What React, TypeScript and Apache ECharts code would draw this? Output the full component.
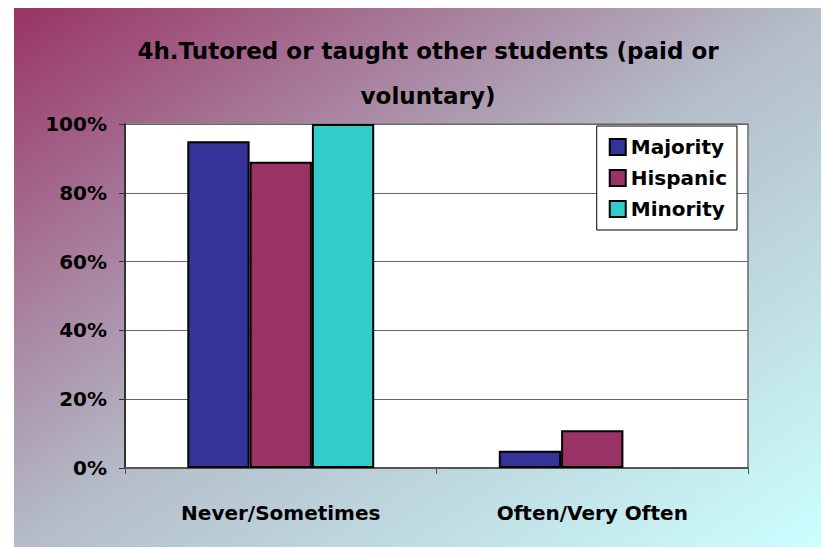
import React, { useEffect, useRef } from "react";
import * as echarts from "echarts";

const categories = ["Never/Sometimes", "Often/Very Often"];
const seriesNames = ["Majority", "Hispanic", "Minority"];
const majority = [95, 5];
const hispanic = [89, 11];
const minority = [100, 0];
const colors = ["#333399", "#993366", "#33CCCC"];
const yTicks = [0, 20, 40, 60, 80, 100];
const titleText = "4h.Tutored or taught other students (paid or\nvoluntary)";

const FONT = "'DejaVu Sans', 'Noto Sans', sans-serif";

export default function App() {
  const ref = useRef<HTMLDivElement>(null);
  useEffect(() => {
    if (!ref.current) return;
    const chart = echarts.init(ref.current, null, { renderer: "svg" });
    const values = [majority, hispanic, minority];
    chart.setOption({
      animation: false,
      backgroundColor: "#ffffff",
      graphic: [
        {
          type: "rect",
          z: -10,
          silent: true,
          shape: { x: 14, y: 8, width: 807, height: 539 },
          style: {
            fill: new echarts.graphic.LinearGradient(0, 0, 1, 1, [
              { offset: 0, color: "#993366" },
              { offset: 0.5, color: "#b4bcc8" },
              { offset: 1, color: "#ccffff" },
            ]),
          },
        },
      ],
      title: {
        text: titleText,
        left: 423,
        top: 23,
        textAlign: "center",
        textStyle: {
          fontFamily: FONT,
          fontWeight: "bold",
          fontSize: 23,
          lineHeight: 45,
          color: "#000",
        },
      },
      legend: {
        data: seriesNames,
        orient: "vertical",
        right: 84,
        top: 126,
        backgroundColor: "#ffffff",
        borderColor: "#000",
        borderWidth: 1,
        borderRadius: 0,
        padding: [10, 10, 10, 12],
        itemGap: 9,
        itemWidth: 16,
        itemHeight: 16,
        icon: "rect",
        textStyle: {
          fontFamily: FONT,
          fontWeight: "bold",
          fontSize: 20,
          lineHeight: 22,
          color: "#000",
          padding: [0, 0, 0, 0],
        },
      },
      grid: {
        left: 125,
        right: 73,
        top: 124,
        bottom: 81,
        show: true,
        backgroundColor: "#ffffff",
        borderColor: "#888888",
        borderWidth: 2,
      },
      xAxis: {
        type: "category",
        data: categories,
        axisLine: { lineStyle: { color: "#555", width: 2 } },
        axisTick: { show: true, length: 6, lineStyle: { color: "#555", width: 1 } },
        axisLabel: {
          margin: 35,
          fontFamily: FONT,
          fontWeight: "bold",
          fontSize: 20,
          color: "#000",
        },
      },
      yAxis: {
        type: "value",
        min: yTicks[0],
        max: yTicks[yTicks.length - 1],
        interval: 20,
        axisLine: { show: true, lineStyle: { color: "#333", width: 2 } },
        axisTick: { show: true, length: 6, lineStyle: { color: "#333", width: 1 } },
        splitLine: { lineStyle: { color: "#666", width: 1 } },
        axisLabel: {
          margin: 18,
          formatter: "{value}%",
          fontFamily: FONT,
          fontWeight: "bold",
          fontSize: 20,
          color: "#000",
        },
      },
      series: seriesNames.map((name, i) => ({
        name,
        type: "bar",
        data: values[i].map((v) =>
          v === 0 ? { value: v, itemStyle: { borderWidth: 0 } } : v
        ),
        barGap: "0%",
        barCategoryGap: "40%",
        itemStyle: { color: colors[i], borderColor: "#000", borderWidth: 2 },
      })),
    });
    return () => chart.dispose();
  }, []);
  return (
    <div
      ref={ref}
      style={{ position: "fixed", left: 0, top: 0, width: 821, height: 549 }}
    />
  );
}
